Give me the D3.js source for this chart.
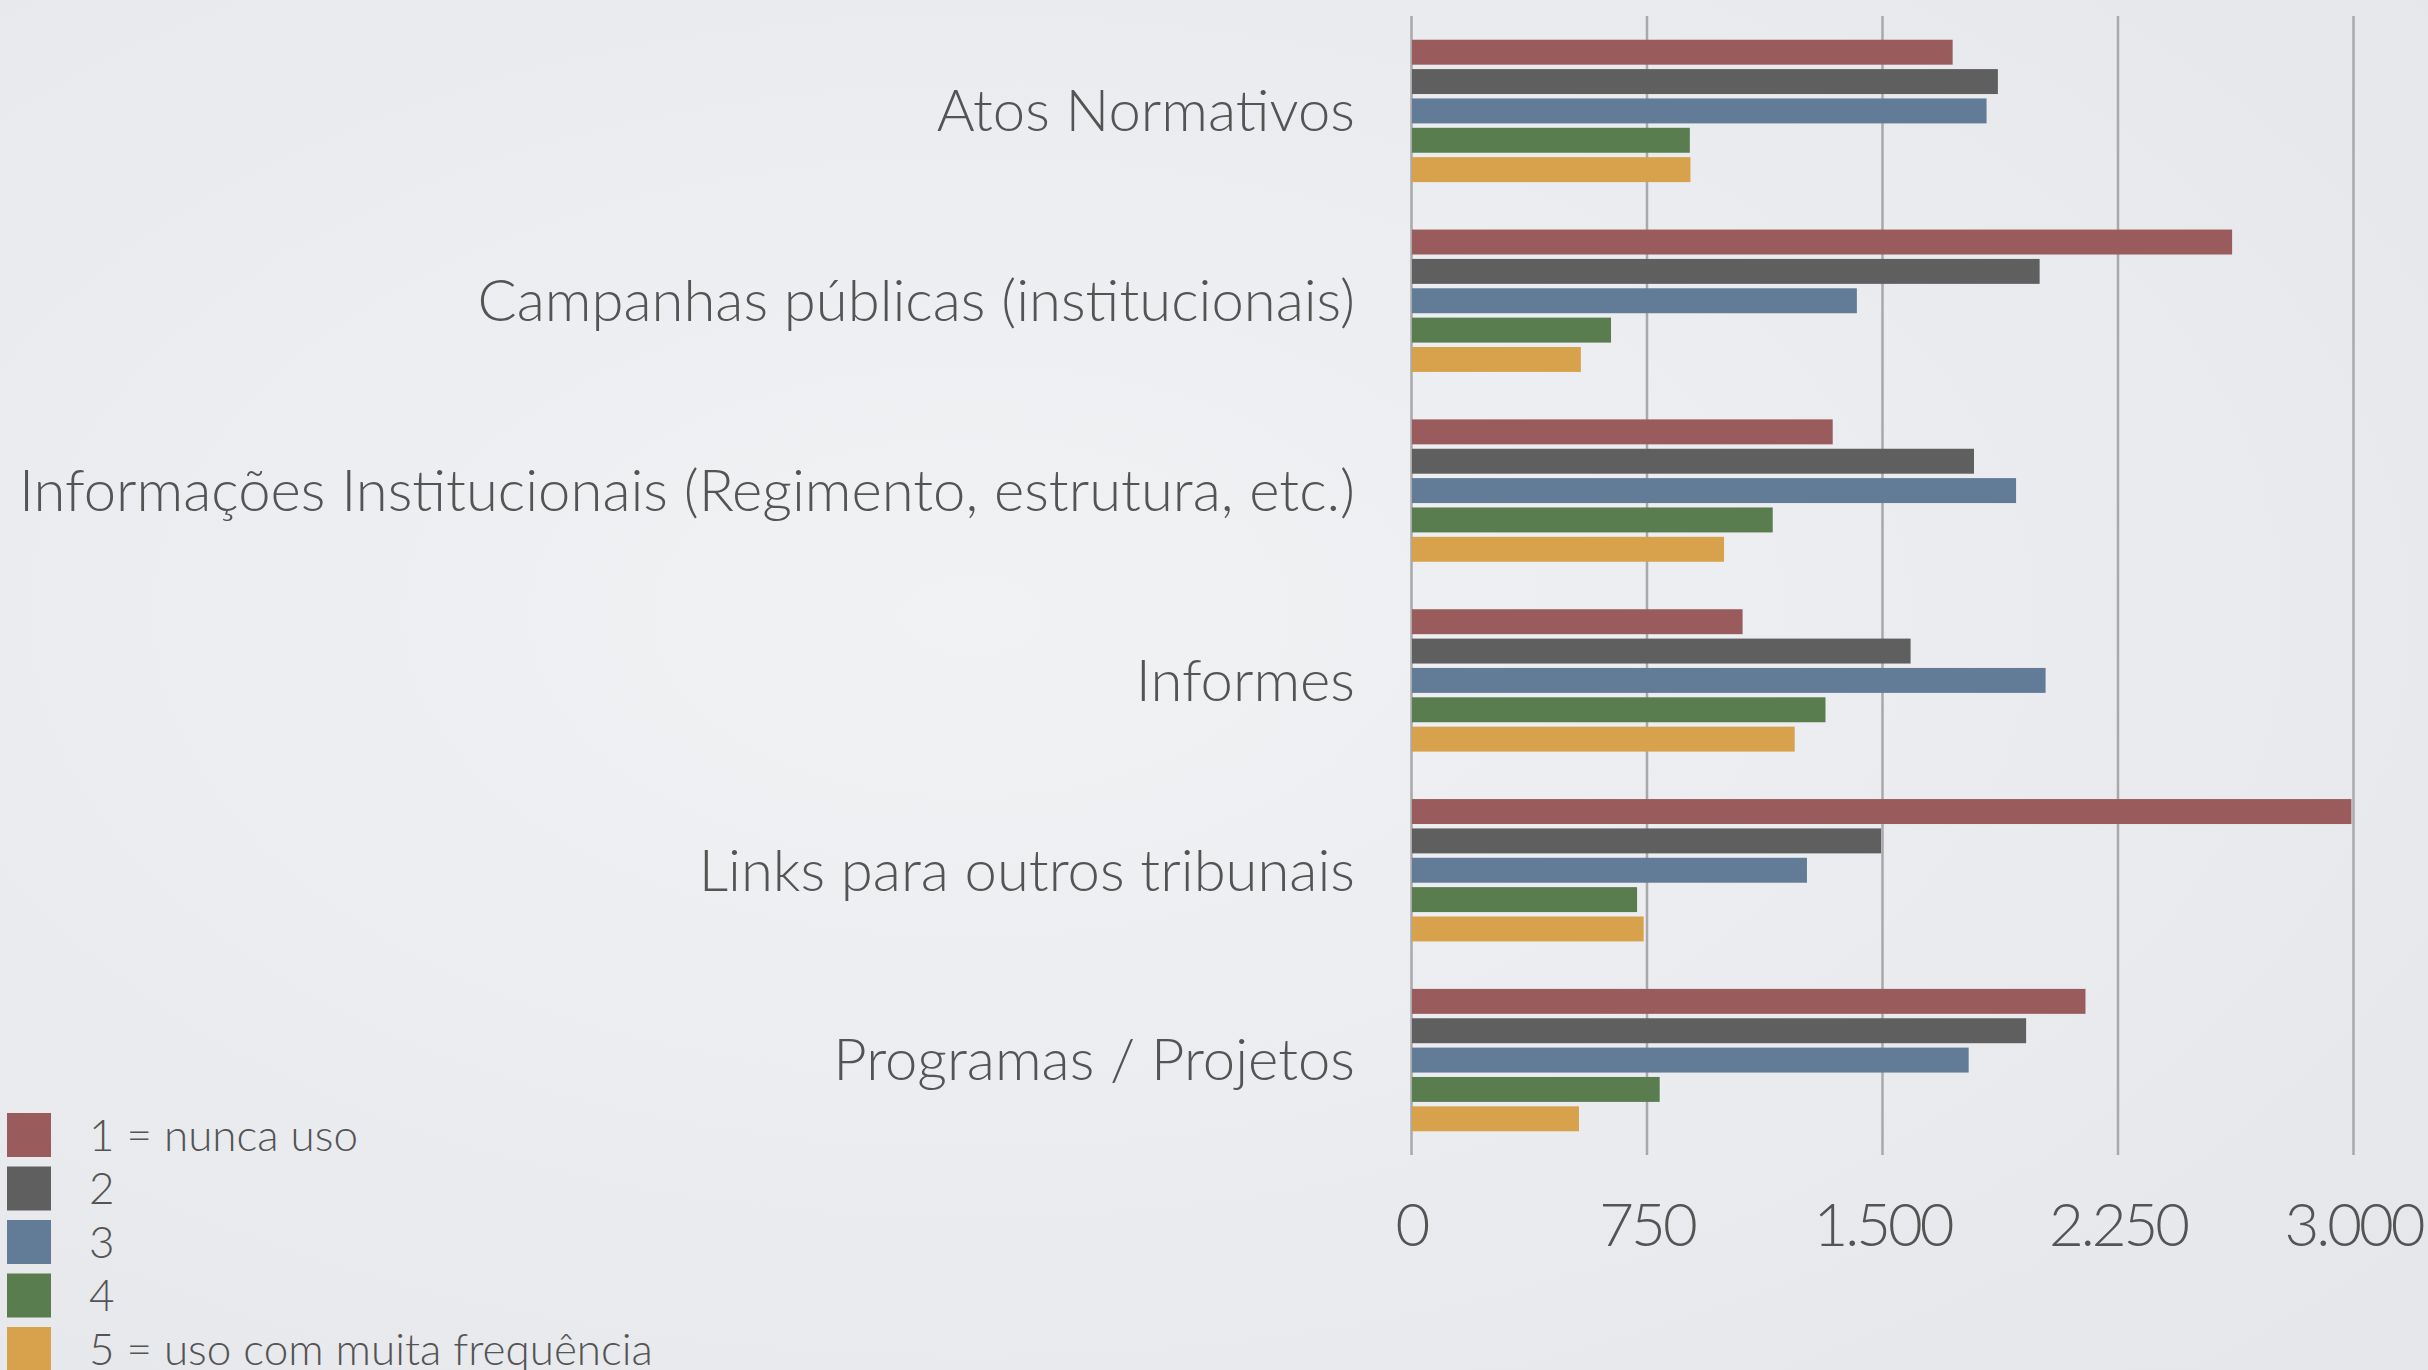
<!DOCTYPE html>
<html>
<head>
<meta charset="utf-8">
<script src="https://cdn.jsdelivr.net/npm/d3@7"></script>
<style>
    html, body { margin: 0; padding: 0; overflow: hidden; }
    .axis text { font-family: Lato, "Open Sans", sans-serif; font-weight: 300; }
</style>
</head>
<body>
<div id="container"></div>
<script>
const w = 2428,
    h = 1370;

// data
var categories = ["Atos Normativos", "Campanhas públicas (institucionais)", "Informações Institucionais (Regimento, estrutura, etc.)", "Informes", "Links para outros tribunais", "Programas / Projetos"];
var seriesNames = ["1 = nunca uso", "2", "3", "4", "5 = uso com muita frequência"];
var nuncaUso = [1725, 2615, 1343, 1056, 2995, 2148];
var nivel2 = [1869, 2002, 1793, 1591, 1497, 1959];
var nivel3 = [1833, 1420, 1927, 2021, 1261, 1776];
var nivel4 = [888, 637, 1152, 1320, 720, 792];
var muitaFrequencia = [890, 541, 997, 1222, 741, 535];
var tickValues = [0, 750, 1500, 2250, 3000];
var colors = ["#9a5b5c", "#5f5f5f", "#627c98", "#5a7d50", "#d8a24c"];

var series = [nuncaUso, nivel2, nivel3, nivel4, muitaFrequencia];

var svg = d3
    .select("div#container")
    .append("svg")
    .attr("width", w)
    .attr("height", h)
    .attr("viewBox", "0 0 " + w + " " + h);

// soft paper background
var defs = svg.append("defs");
var grad = defs.append("radialGradient")
    .attr("id", "bg")
    .attr("cx", "40%").attr("cy", "45%").attr("r", "75%");
grad.append("stop").attr("offset", "0%").attr("stop-color", "#f1f2f4");
grad.append("stop").attr("offset", "100%").attr("stop-color", "#e5e7eb");
svg.append("rect")
    .attr("width", w)
    .attr("height", h)
    .style("fill", "url(#bg)");

var x = d3.scaleLinear()
    .domain([0, 3000])
    .range([1411, 2353]);

var y = d3.scaleBand()
    .domain(categories)
    .range([16, 1155])
    .paddingInner(0.25)
    .paddingOuter(0.125);

var ySub = d3.scaleBand()
    .domain(d3.range(series.length))
    .range([0, y.bandwidth()])
    .paddingInner(0.15);

// gridlines + value axis
var grid = svg.append("g")
    .attr("class", "axis")
    .attr("transform", "translate(0," + 1155 + ")")
    .call(d3.axisBottom(x)
        .tickValues(tickValues)
        .tickSize(-(1155 - 16))
        .tickPadding(48)
        .tickFormat(d => d3.format(",")(d).replace(",", ".")));
grid.select(".domain").remove();
grid.selectAll(".tick line")
    .style("stroke", "#a9a9ab")
    .style("stroke-width", 2.5);
grid.selectAll(".tick text")
    .style("fill", "#545454")
    .style("font-size", "60px")
    .style("letter-spacing", "-3px");

// bars
var groups = svg.selectAll(".group")
    .data(categories)
    .enter()
    .append("g")
    .attr("class", "group")
    .attr("transform", d => "translate(0," + y(d) + ")");

groups.selectAll("rect")
    .data((d, i) => series.map((s, j) => ({ j: j, v: s[i] })))
    .enter()
    .append("rect")
    .attr("x", x(0) + 1)
    .attr("y", d => ySub(d.j))
    .attr("width", d => x(d.v) - x(0) - 1)
    .attr("height", ySub.bandwidth())
    .style("fill", d => colors[d.j]);

// category labels
svg.append("g")
    .attr("class", "axis")
    .selectAll("text")
    .data(categories)
    .enter()
    .append("text")
    .attr("x", 1355)
    .attr("y", d => y(d) + y.bandwidth() / 2)
    .attr("dy", "0.35em")
    .attr("text-anchor", "end")
    .style("fill", "#545454")
    .style("font-size", "58px")
    .text(d => d);

// legend
var legendCell = 44,
    legendStep = 53.5;
var legend = svg.append("g")
    .attr("class", "axis")
    .attr("transform", "translate(7,1113)");

legend.selectAll("rect")
    .data(seriesNames)
    .enter()
    .append("rect")
    .attr("x", 0)
    .attr("y", (d, i) => i * legendStep)
    .attr("width", legendCell)
    .attr("height", legendCell)
    .style("fill", (d, i) => colors[i]);

legend.selectAll("text")
    .data(seriesNames)
    .enter()
    .append("text")
    .attr("x", 82)
    .attr("y", (d, i) => i * legendStep + legendCell / 2)
    .attr("dy", "0.36em")
    .style("fill", "#545454")
    .style("font-size", "44px")
    .text(d => d);
</script>
</body>
</html>
